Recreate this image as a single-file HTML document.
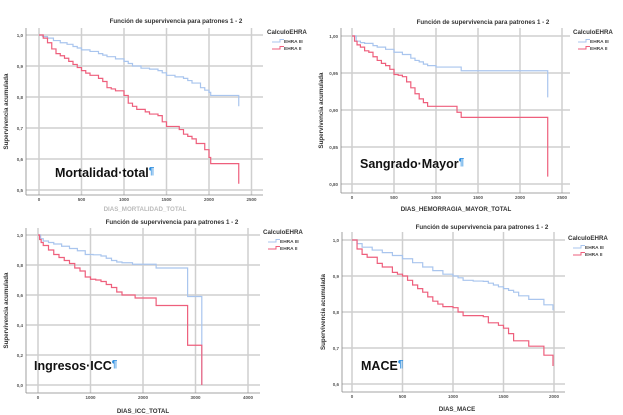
<!DOCTYPE html>
<html><head><meta charset="utf-8">
<style>
html,body{margin:0;padding:0;background:#fff;width:623px;height:415px;overflow:hidden}
svg{display:block}
text{font-family:"Liberation Sans",sans-serif}
</style></head>
<body>
<svg id="root" width="623" height="415" viewBox="0 0 623 415"></svg>
<script>
// Panel 1: Mortalidad total
const p1Times3=[0,40,100,170,250,330,400,450,500,600,700,750,800,900,1000,1050,1100,1200,1300,1400,1450,1500,1600,1700,1750,1800,1900,1950,2000,2020,2350];
const p1Surv3=[1.0,0.995,0.99,0.982,0.975,0.97,0.963,0.958,0.952,0.947,0.94,0.935,0.93,0.923,0.915,0.908,0.9,0.893,0.89,0.885,0.878,0.87,0.865,0.86,0.853,0.845,0.83,0.822,0.815,0.805,0.77];
const p1Times2=[0,50,100,150,200,250,300,350,400,450,500,550,600,700,750,800,850,900,1000,1050,1100,1150,1250,1300,1400,1450,1500,1650,1700,1750,1800,1850,1950,2000,2020,2350];
const p1Surv2=[1.0,0.99,0.975,0.955,0.94,0.933,0.925,0.915,0.905,0.895,0.885,0.877,0.87,0.86,0.85,0.83,0.826,0.82,0.805,0.78,0.77,0.76,0.752,0.745,0.74,0.72,0.705,0.695,0.68,0.673,0.665,0.65,0.63,0.605,0.585,0.52];
const p1Yticks=["1,0","0,9","0,8","0,7","0,6","0,5"];
const p1Xticks=["0","500","1000","1500","2000","2500"];
// Panel 2: Sangrado mayor
const p2Times3=[0,50,100,150,250,300,400,500,600,700,750,800,850,900,1000,1300,2330];
const p2Surv3=[1.0,0.993,0.991,0.99,0.987,0.985,0.982,0.978,0.975,0.97,0.967,0.965,0.962,0.96,0.958,0.953,0.917];
const p2Times2=[0,30,60,100,150,200,250,300,350,400,450,500,550,600,650,700,750,800,850,900,1250,1300,2330];
const p2Surv2=[1.0,0.993,0.988,0.985,0.98,0.978,0.972,0.967,0.963,0.96,0.955,0.948,0.947,0.945,0.938,0.93,0.922,0.915,0.91,0.905,0.897,0.89,0.81];
const p2Yticks=["1,00","0,95","0,90","0,85","0,80"];
const p2Xticks=["0","500","1000","1500","2000","2500"];
// Panel 3: Ingresos ICC
const p3Times3=[0,50,100,200,300,450,600,750,900,1050,1200,1300,1400,1500,1600,1800,2250,2850,3120];
const p3Surv3=[1.0,0.975,0.96,0.95,0.94,0.925,0.91,0.895,0.87,0.868,0.86,0.845,0.83,0.82,0.815,0.805,0.78,0.59,0.0];
const p3Times2=[0,30,60,100,200,300,400,500,600,700,800,900,1000,1100,1200,1300,1400,1500,1600,1850,2250,2850,3120];
const p3Surv2=[1.0,0.97,0.95,0.93,0.9,0.87,0.85,0.83,0.81,0.78,0.76,0.72,0.705,0.7,0.69,0.67,0.65,0.62,0.6,0.58,0.53,0.265,0.0];
const p3Yticks=["1,0","0,8","0,6","0,4","0,2","0,0"];
const p3Xticks=["0","1000","2000","3000","4000"];
// Panel 4: MACE
const p4Times3=[0,50,100,200,300,400,500,600,700,800,900,1000,1050,1100,1200,1300,1350,1400,1450,1500,1550,1600,1650,1750,1900,1990];
const p4Surv3=[1.0,0.99,0.98,0.972,0.965,0.957,0.948,0.937,0.925,0.915,0.905,0.9,0.895,0.888,0.886,0.885,0.88,0.875,0.87,0.865,0.86,0.855,0.845,0.835,0.82,0.805];
const p4Times2=[0,50,100,150,250,300,400,450,500,550,600,650,700,750,800,850,900,1000,1050,1100,1300,1350,1450,1500,1550,1600,1750,1900,1990];
const p4Surv2=[1.0,0.975,0.96,0.952,0.935,0.925,0.91,0.905,0.9,0.888,0.875,0.865,0.855,0.842,0.83,0.822,0.815,0.812,0.8,0.79,0.787,0.77,0.763,0.755,0.74,0.72,0.705,0.68,0.65];
const p4Yticks=["1,0","0,9","0,8","0,7","0,6"];
const p4Xticks=["0","500","1000","1500","2000"];

const NS="http://www.w3.org/2000/svg";
const root=document.getElementById('root');
function mk(tag,attrs,parent){const e=document.createElementNS(NS,tag);for(const k in attrs)e.setAttribute(k,attrs[k]);(parent||root).appendChild(e);return e;}

function panel(cfg){
  const g=mk('g',{});
  
  
  const sx=v=>cfg.x0+(v-cfg.xmin)/(cfg.xmax-cfg.xmin)*(cfg.x1-cfg.x0);
  const sy=v=>cfg.y0+(cfg.ymax-v)/(cfg.ymax-cfg.ymin)*(cfg.y1-cfg.y0);
  cfg.yt.forEach((lab,i)=>{
    const v=cfg.ymax-i*cfg.ystep;const y=sy(v);
    mk('line',{x1:cfg.left,x2:cfg.right,y1:y,y2:y,stroke:'#cfcfcf','stroke-width':1.5},g);
    const t=mk('text',{x:cfg.left-3,y:y+1.8,'font-size':4.5,'text-anchor':'end',fill:'#555','font-weight':'bold'},g);
    t.textContent=lab;
    
    
  });
  cfg.xt.forEach((lab,i)=>{
    const v=cfg.xmin+i*cfg.xstep;const x=sx(v);
    mk('line',{x1:x,x2:x,y1:cfg.top,y2:cfg.bottom,stroke:'#cfcfcf','stroke-width':1.5},g);
    const t=mk('text',{x:x,y:cfg.bottom+6,'font-size':4.5,'text-anchor':'middle',fill:'#555','font-weight':'bold'},g);
    t.textContent=lab;
    
    
  });
  mk('line',{x1:cfg.left,x2:cfg.left,y1:cfg.top,y2:cfg.bottom,stroke:'#888','stroke-width':0.8},g);
  mk('line',{x1:cfg.left,x2:cfg.right,y1:cfg.bottom,y2:cfg.bottom,stroke:'#888','stroke-width':0.8},g);
  const series=[[cfg.t3,cfg.s3,'#a9c5ee','series-ehra-iii'],[cfg.t2,cfg.s2,'#ee5f7c','series-ehra-ii']];
  series.forEach(([ts,ss,col,nm])=>{
    let d='M'+sx(ts[0])+' '+sy(ss[0]);
    for(let i=1;i<ts.length;i++){d+=' H'+sx(ts[i])+' V'+sy(ss[i]);}
    const p=mk('path',{d:d,fill:'none',stroke:col,'stroke-width':1.2},g);
    
    
  });
  const ti=mk('text',{x:cfg.titleX,y:cfg.titleY,'font-size':6.2,'font-weight':'bold','text-anchor':'middle',fill:'#333'},g);
  ti.textContent='Función de supervivencia para patrones 1 - 2';
  
  
  const ya=mk('text',{x:0,y:0,'font-size':6.2,'font-weight':'bold','text-anchor':'middle',fill:'#333',transform:`translate(${cfg.yLabX},${(cfg.top+cfg.bottom)/2}) rotate(-90)`},g);
  ya.textContent='Supervivencia acumulada';
  
  
  if(cfg.xTitle){
    const xa=mk('text',{x:cfg.xTitleX,y:cfg.xTitleY,'font-size':6.2,'font-weight':'bold','text-anchor':'middle',fill:cfg.xTitleFill||'#333'},g);
    xa.textContent=cfg.xTitle;
    
    
  }
  const lg=mk('g',{},g);
  
  
  const lt=mk('text',{x:cfg.legX,y:cfg.legY,'font-size':6.2,'font-weight':'bold',fill:'#333'},lg);
  lt.textContent='CalculoEHRA';
  [['EHRA III','#a9c5ee'],['EHRA II','#ee5f7c']].forEach(([lab,col],i)=>{
    const y=cfg.legY+8+i*7;const x=cfg.legX+5;
    mk('path',{d:`M${x} ${y} H${x+8} V${y-2.5} H${x+12}`,fill:'none',stroke:col,'stroke-width':1},lg);
    const e=mk('text',{x:x+12,y:y+1,'font-size':4.8,'font-weight':'bold',fill:'#444'},lg);
    e.textContent=lab;
    
    
  });
  const an=mk('text',{x:cfg.annX,y:cfg.annY,'font-size':12.5,'font-weight':'bold',fill:'#111'},g);
  an.textContent=cfg.ann;
  const ps=mk('tspan',{fill:'#2f8fe0','font-size':10,dy:-3},an);
  ps.textContent='¶';
  
  
}

panel({name:'panel-mortalidad',left:26,right:263,top:28,bottom:195,x0:39,x1:124,xmin:0,xmax:1000,y0:35,y1:66,ymin:0.9,ymax:1.0,
  t3:p1Times3,s3:p1Surv3,t2:p1Times2,s2:p1Surv2,yt:p1Yticks,ystep:0.1,xt:p1Xticks,xstep:500,
  titleX:176,titleY:23,yLabX:8,xTitle:'DIAS_MORTALIDAD_TOTAL',xTitleX:145,xTitleY:211,xTitleFill:'#bbb',legX:267,legY:34,
  ann:'Mortalidad·total',annX:55,annY:177});
panel({name:'panel-sangrado',left:341,right:570,top:28,bottom:193,x0:352,x1:436,xmin:0,xmax:1000,y0:36,y1:110,ymin:0.9,ymax:1.0,
  t3:p2Times3,s3:p2Surv3,t2:p2Times2,s2:p2Surv2,yt:p2Yticks,ystep:0.05,xt:p2Xticks,xstep:500,
  titleX:483,titleY:24,yLabX:323,xTitle:'DIAS_HEMORRAGIA_MAYOR_TOTAL',xTitleX:456,xTitleY:211,legX:573,legY:34,
  ann:'Sangrado·Mayor',annX:360,annY:168});
panel({name:'panel-icc',left:26,right:260,top:228,bottom:393,x0:38,x1:143,xmin:0,xmax:2000,y0:235,y1:295,ymin:0.6,ymax:1.0,
  t3:p3Times3,s3:p3Surv3,t2:p3Times2,s2:p3Surv2,yt:p3Yticks,ystep:0.2,xt:p3Xticks,xstep:1000,
  titleX:172,titleY:224,yLabX:8,xTitle:'DIAS_ICC_TOTAL',xTitleX:143,xTitleY:413,legX:263,legY:234,
  ann:'Ingresos·ICC',annX:34,annY:370});
panel({name:'panel-mace',left:342,right:565,top:232,bottom:392,x0:352,x1:453,xmin:0,xmax:1000,y0:240,y1:276,ymin:0.9,ymax:1.0,
  t3:p4Times3,s3:p4Surv3,t2:p4Times2,s2:p4Surv2,yt:p4Yticks,ystep:0.1,xt:p4Xticks,xstep:500,
  titleX:482,titleY:229,yLabX:325,xTitle:'DIAS_MACE',xTitleX:457,xTitleY:411,legX:568,legY:240,
  ann:'MACE',annX:361,annY:370});
</script>
</body></html>
